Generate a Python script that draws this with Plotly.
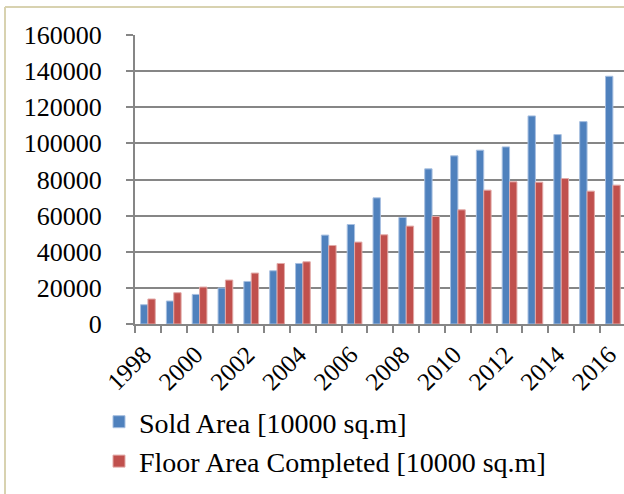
import plotly.graph_objects as go

years = list(range(1998, 2017))
sold_area = [10670, 12720, 16370, 19910, 23560, 29480, 33510, 49220, 55080, 69850,
             58960, 85890, 93080, 96230, 98060, 115200, 104860, 112050, 137160]
floor_completed = [13830, 17310, 20460, 24330, 28200, 33510, 34450, 43470, 45350, 49390,
                   54200, 59510, 63210, 74110, 78700, 78530, 80530, 73560, 76880]
series_names = ["Sold Area [10000 sq.m]", "Floor Area Completed [10000 sq.m]"]
y_ticks = [0, 20000, 40000, 60000, 80000, 100000, 120000, 140000, 160000]
x_labels = years[::2]

W, H = 624, 494
ML, MR, MT, MB = 135, 0, 35, 170
FONT = "Liberation Serif"

fig = go.Figure()
fig.add_trace(go.Bar(x=years, y=sold_area, name=series_names[0],
                     marker=dict(color="#4F81BD", line=dict(color="#A7BFE0", width=1))))
fig.add_trace(go.Bar(x=years, y=floor_completed, name=series_names[1],
                     marker=dict(color="#C0504D", line=dict(color="#E2A9A7", width=1))))

pw = W - ML - MR
ph = H - MT - MB
fig.update_layout(
    width=W, height=H,
    margin=dict(l=ML, r=MR, t=MT, b=MB, pad=0),
    paper_bgcolor="white", plot_bgcolor="white",
    font=dict(family=FONT, size=26, color="black"),
    barmode="group", bargap=0.43, bargroupgap=0,
    xaxis=dict(
        range=[years[0] - 0.5, years[0] - 0.5 + 18.93],
        tickmode="array", tickvals=x_labels, ticktext=[str(v) for v in x_labels],
        tickangle=-45, ticks="", showgrid=False, ticklabeloverflow="allow",
        ticklabelstandoff=4, ticklabelshift=-4,
        showline=True, linecolor="#868686", linewidth=2,
        tickfont=dict(family=FONT, size=25),
        minor=dict(tickmode="linear", tick0=years[0] - 0.5, dtick=1, ticks="outside",
                   ticklen=7, tickwidth=2, tickcolor="#868686", showgrid=False),
    ),
    yaxis=dict(
        range=[0, 160000], tickmode="array", tickvals=y_ticks,
        ticktext=[str(v) for v in y_ticks],
        ticks="outside", ticklen=7, tickwidth=2, tickcolor="#868686",
        showgrid=True, gridcolor="#868686", gridwidth=2,
        showline=True, linecolor="#868686", linewidth=2,
        zeroline=False, tickfont=dict(family=FONT, size=26),
        ticklabelstandoff=19,
    ),
    legend=dict(x=(99 - ML) / pw, xanchor="left", y=(MT + ph - 397) / ph, yanchor="top",
                orientation="v", font=dict(family=FONT, size=28),
                bgcolor="rgba(0,0,0,0)", tracegroupgap=0),
    showlegend=True,
)
# image frame (left and top border)
fig.add_shape(type="line", xref="paper", yref="paper",
              x0=(5 - ML) / pw, x1=(5 - ML) / pw, y0=(MT + ph - 7) / ph, y1=(MT + ph - H - 5) / ph,
              line=dict(color="#D8D2B0", width=2))
fig.add_shape(type="line", xref="paper", yref="paper",
              x0=(5 - ML) / pw, x1=(W + 5 - ML) / pw, y0=(MT + ph - 7) / ph, y1=(MT + ph - 7) / ph,
              line=dict(color="#D8D2B0", width=2))
fig.write_html("out.html")
